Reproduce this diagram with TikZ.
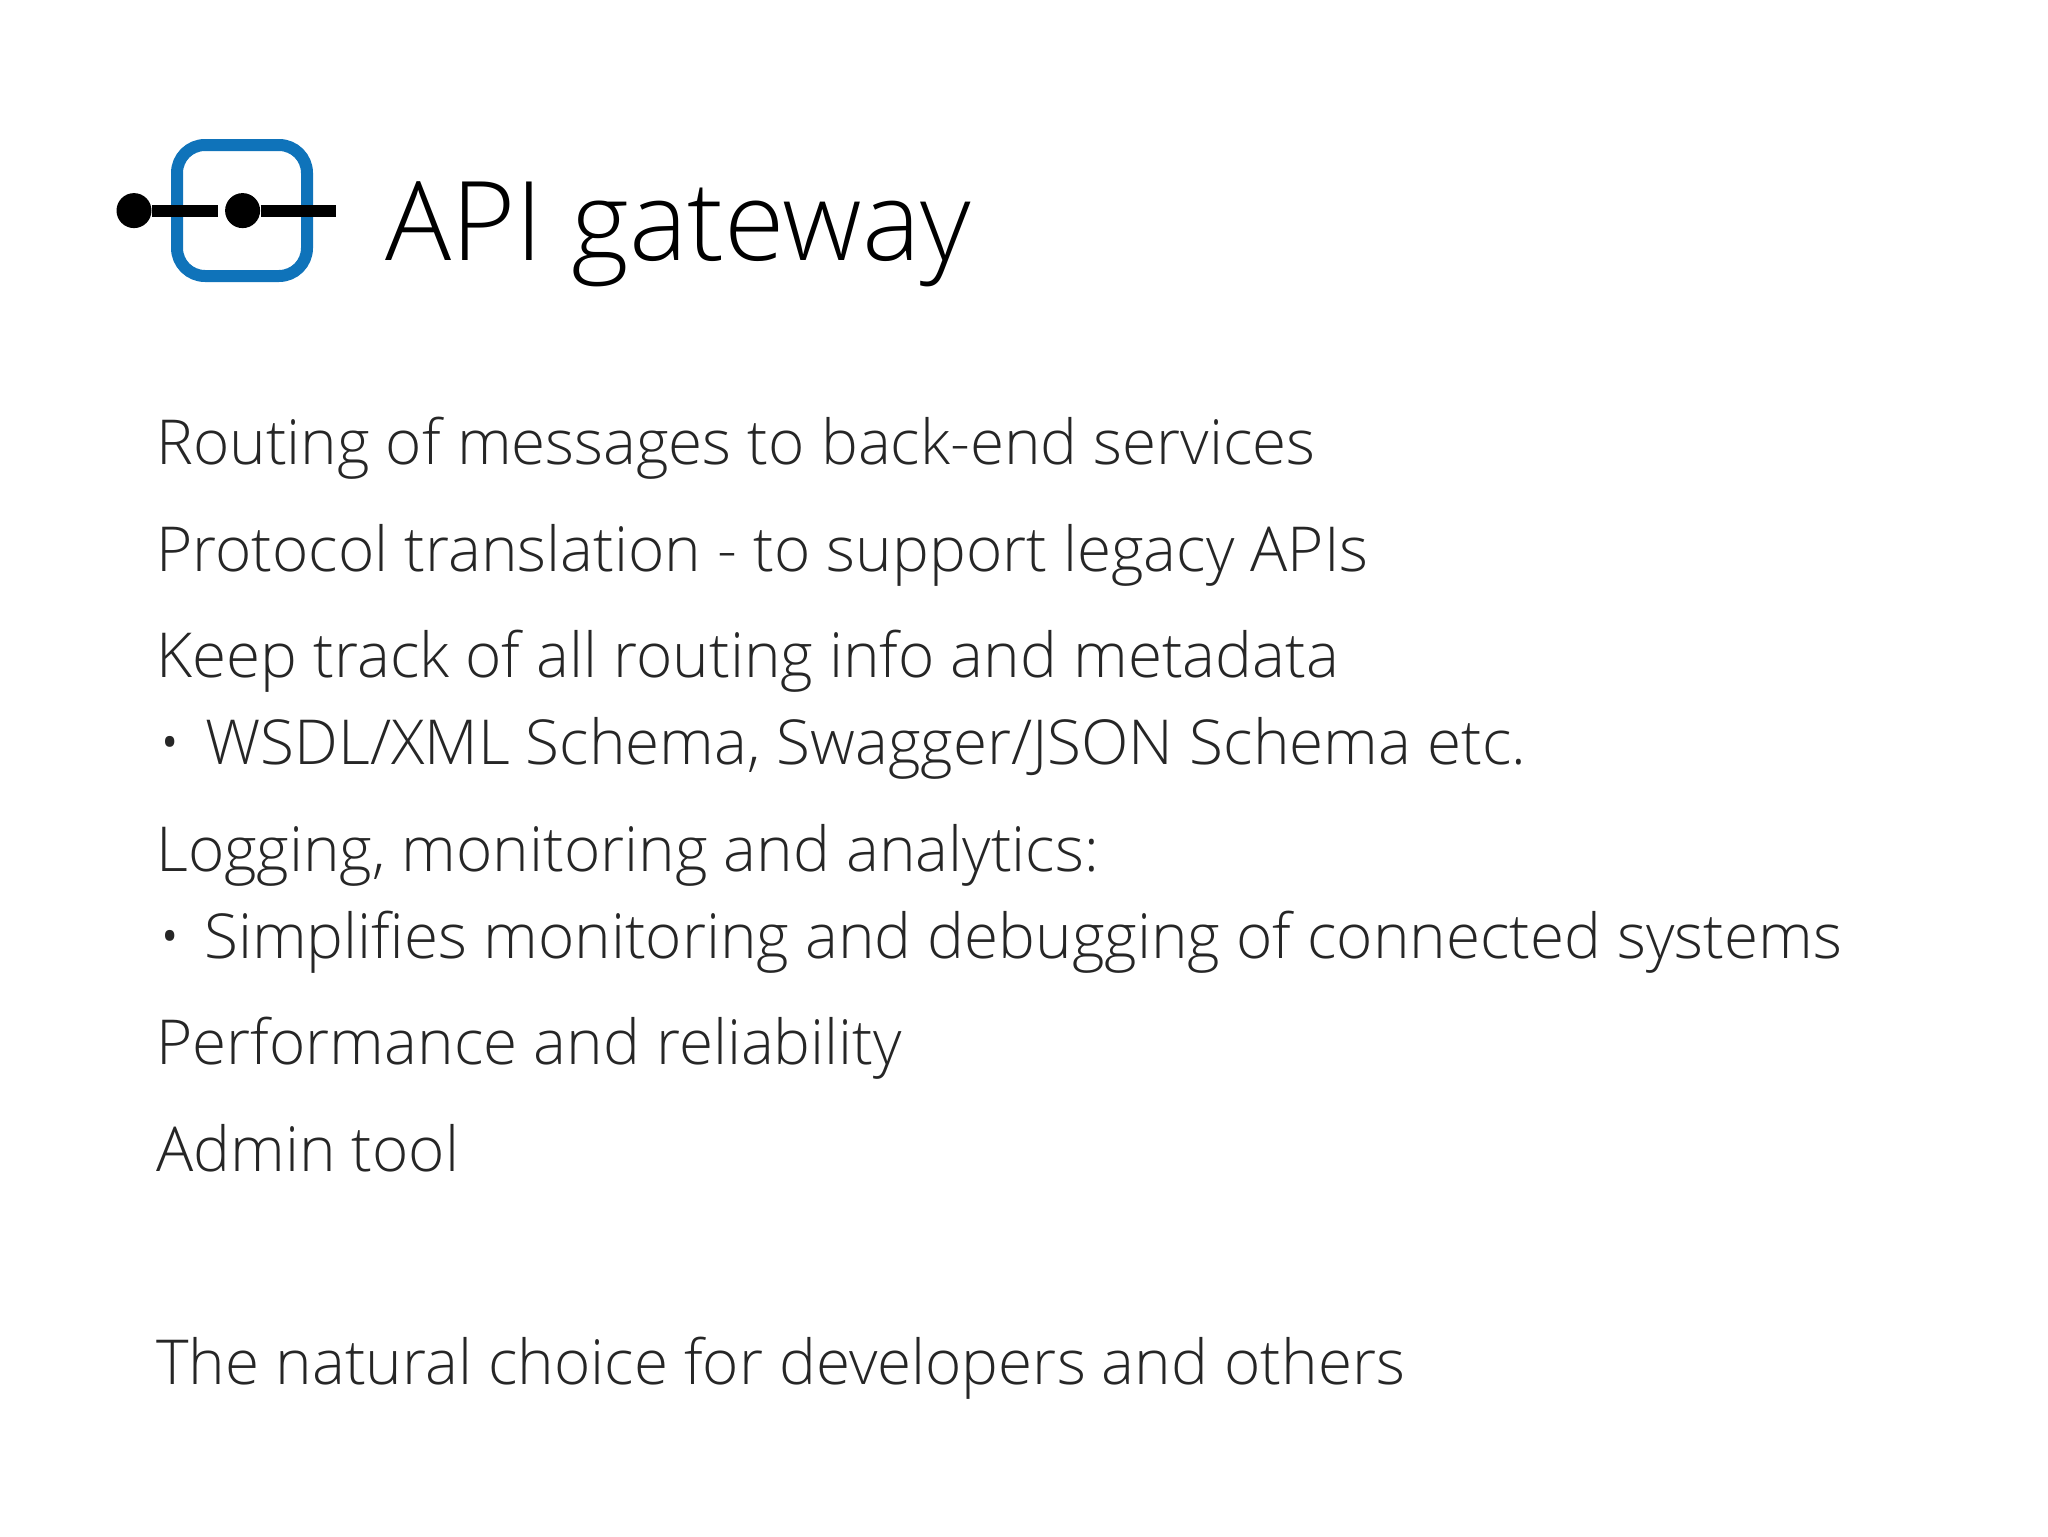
\documentclass[tikz,border=0pt]{standalone}
\usepackage{fontspec}
\setmainfont{Open Sans Light}
\definecolor{iconblue}{HTML}{0F73BA}
\definecolor{textgrey}{HTML}{262626}
\tikzset{
    line/.style={anchor=base west, text=textgrey, font=\fontsize{31pt}{34pt}\selectfont, inner sep=0pt},
    dot/.style={circle, fill=black, inner sep=0pt, minimum size=17.5pt}
}
\begin{document}
\begin{tikzpicture}[x=1pt,y=-1pt]
    \useasboundingbox (0,0) rectangle (1024,768);
    % icon
    \draw[iconblue, line width=6pt, rounded corners=14pt] (88.5,72.5) rectangle (153.5,138);
    \node[dot] (dotleft) at (67,105.3) {};
    \node[dot] (dotmid) at (121.3,105.3) {};
    \coordinate (lineleft) at (109,105.3);
    \coordinate (lineend) at (168,105.3);
    \draw[black, line width=6pt] (dotleft) -- (lineleft);
    \draw[black, line width=6pt] (dotmid) -- (lineend);
    % title
    \node[line, text=black, font=\fontsize{55pt}{60pt}\selectfont] (title) at (192.5,130) {API gateway};
    % text lines
    \node[line] (routing) at (78,232) {Routing of messages to back-end services};
    \node[line] (protocol) at (78,285.5) {Protocol translation - to support legacy APIs};
    \node[line] (keep) at (78,338.5) {Keep track of all routing info and metadata};
    \node[line] (bulletone) at (79,382) {•};
    \node[line] (wsdl) at (102.5,382) {WSDL/XML Schema, Swagger/JSON Schema etc.};
    \node[line] (logging) at (78,435.5) {Logging, monitoring and analytics:};
    \node[line] (bullettwo) at (79,479) {•};
    \node[line] (simplifies) at (102,479) {Simplifies monitoring and debugging of connected systems};
    \node[line] (performance) at (78,532) {Performance and reliability};
    \node[line] (admin) at (78,585.5) {Admin tool};
    \node[line] (natural) at (78,692) {The natural choice for developers and others};
\end{tikzpicture}
\end{document}
